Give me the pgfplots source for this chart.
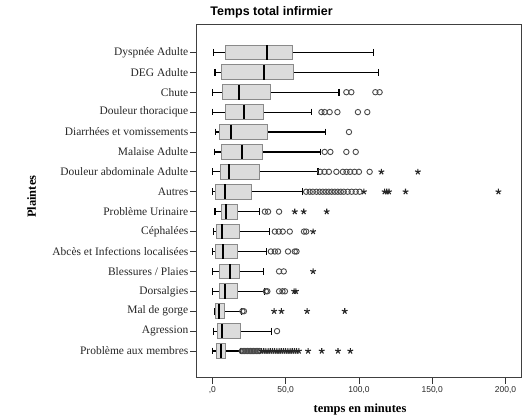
\documentclass[border=0pt]{standalone}
\usepackage{fontspec}
\setmainfont{Liberation Serif}
\setsansfont{Liberation Sans}
\usepackage{pgfplots}
\pgfplotsset{compat=1.18}
\usepgfplotslibrary{statistics}
\definecolor{boxfill}{HTML}{DCDCDC}
\definecolor{boxedge}{HTML}{8A8A8A}
\definecolor{outl}{HTML}{4A4A4A}
\pgfplotsset{
  mybox/.style={black, line width=0.9bp, solid,
    boxplot/box extend=0.74, boxplot/whisker extend=0.34,
    boxplot/every box/.style={draw=boxedge, fill=boxfill, line width=0.9bp},
    boxplot/every median/.style={black, line width=2bp},
    boxplot/every whisker/.style={black, line width=1.2bp},
  },
  circ/.style={only marks, mark=o, mark size=2.7bp, draw=outl, mark options={line width=0.9bp, draw=outl}},
  starm/.style={only marks, mark=star, mark size=3bp, black!85, mark options={line width=1.1bp}},
}
\begin{document}
\begin{tikzpicture}[x=1bp,y=1bp]
\path[use as bounding box] (0,0) rectangle (525,415);
\begin{axis}[
  at={(196bp,37.3bp)}, anchor=south west,
  scale only axis, width=325bp, height=353.4bp,
  xmin=-11.2, xmax=210.6,
  ymin=-1.41, ymax=16.34, y dir=reverse,
  boxplot/draw direction=x,
  axis line style={black!75, line width=0.8bp},
  tick align=outside, xtick pos=bottom, ytick pos=left,
  major tick length=6bp,
  tick style={black!80, line width=0.8bp},
  xtick={0,50,100,150,200},
  xticklabels={{,0},{50,0},{100,0},{150,0},{200,0}},
  xticklabel style={font=\sffamily\fontsize{8.5}{10}\selectfont, text=black!85, yshift=1bp},
  ytick={0,...,15},
  yticklabels={Dyspnée Adulte, DEG Adulte, Chute, Douleur thoracique, Diarrhées et vomissements, Malaise Adulte, Douleur abdominale Adulte, Autres, Problème Urinaire, Céphalées, Abcès et Infections localisées, Blessures / Plaies, Dorsalgies, Mal de gorge, Agression, Problème aux membres},
  yticklabel style={font=\fontsize{11.5}{13}\selectfont, text=black!85, inner sep=1.5bp},
  clip=false,
]
% boxes
\addplot[mybox, boxplot prepared={draw position=0, lower whisker=1, lower quartile=9.2, median=37.3, upper quartile=54.8, upper whisker=110}] coordinates {};
\addplot[mybox, boxplot prepared={draw position=1, lower whisker=1.7, lower quartile=6.3, median=34.9, upper quartile=55.3, upper whisker=113.4}] coordinates {};
\addplot[mybox, boxplot prepared={draw position=2, lower whisker=0, lower quartile=7, median=18, upper quartile=39.6, upper whisker=86.4}] coordinates {};
\addplot[mybox, boxplot prepared={draw position=3, lower whisker=0, lower quartile=9, median=21.7, upper quartile=34.6, upper whisker=67.8}] coordinates {};
\addplot[mybox, boxplot prepared={draw position=4, lower whisker=2.2, lower quartile=5.1, median=12.6, upper quartile=37.6, upper whisker=77.3}] coordinates {};
\addplot[mybox, boxplot prepared={draw position=5, lower whisker=1.2, lower quartile=6.3, median=19.9, upper quartile=34.2, upper whisker=73.7}] coordinates {};
\addplot[mybox, boxplot prepared={draw position=6, lower whisker=0, lower quartile=5.6, median=11.2, upper quartile=32.4, upper whisker=72.1}] coordinates {};
\addplot[mybox, boxplot prepared={draw position=7, lower whisker=0, lower quartile=2.4, median=8.5, upper quartile=26.7, upper whisker=61.5}] coordinates {};
\addplot[mybox, boxplot prepared={draw position=8, lower whisker=1.7, lower quartile=6.3, median=9.2, upper quartile=17.2, upper whisker=31.9}] coordinates {};
\addplot[mybox, boxplot prepared={draw position=9, lower whisker=0.5, lower quartile=2.9, median=6.3, upper quartile=18.7, upper whisker=39.2}] coordinates {};
\addplot[mybox, boxplot prepared={draw position=10, lower whisker=0.1, lower quartile=2.4, median=7.4, upper quartile=16.9, upper whisker=36.9}] coordinates {};
\addplot[mybox, boxplot prepared={draw position=11, lower whisker=0.1, lower quartile=4.6, median=11.9, upper quartile=18.7, upper whisker=35.1}] coordinates {};
\addplot[mybox, boxplot prepared={draw position=12, lower whisker=0.1, lower quartile=4.6, median=8.5, upper quartile=16.9, upper whisker=35.8}] coordinates {};
\addplot[mybox, boxplot prepared={draw position=13, lower whisker=1.7, lower quartile=2.0, median=4.6, upper quartile=8.5, upper whisker=19.9}] coordinates {};
\addplot[mybox, boxplot prepared={draw position=14, lower whisker=0.5, lower quartile=3.5, median=6.7, upper quartile=19.2, upper whisker=40.3}] coordinates {};
\addplot[mybox, boxplot prepared={draw position=15, lower whisker=0, lower quartile=2.9, median=5.8, upper quartile=9.2, upper whisker=19.2}] coordinates {};
% outliers (circles)
\addplot[circ] coordinates {
(91.4,2) (94.8,2) (111.2,2) (114.1,2)
(74.4,3) (76.6,3) (80,3) (85.3,3) (99.3,3) (105.7,3)
(93.2,4)
(76.6,5) (80.5,5) (91.4,5) (97.8,5)
(73.5,6) (76.5,6) (79.5,6) (84.6,6) (89,6) (91.5,6) (94,6) (97,6) (100,6) (107.3,6)
(64,7) (66.4,7) (68.5,7) (71,7) (73.2,7) (75.3,7) (77.4,7) (79.4,7) (81.4,7) (83.5,7) (85.5,7) (87.6,7) (89.6,7) (92.3,7) (95,7) (97.8,7) (100.5,7)
(35.8,8) (38,8) (45.5,8)
(42.6,9) (45.3,9) (48,9) (52.8,9) (62.5,9) (64,9)
(39.9,10) (42.6,10) (44.8,10) (51.6,10) (56.2,10) (57.4,10)
(45.5,11) (48.7,11)
(36.5,12) (37.5,12) (45.5,12) (47.8,12) (49.5,12)
(20.5,13) (21.5,13)
(44.1,14)
(20,15) (21,15) (22,15) (23,15) (24,15) (25,15) (26,15) (27,15) (28,15) (29,15) (30,15) (31,15) (32,15)
};
% extreme outliers (stars)
\addplot[starm] coordinates {
(115.3,6) (140.2,6)
(103.4,7) (117.5,7) (119,7) (120.5,7) (131.8,7) (195.2,7)
(56.2,8) (62.3,8) (78,8)
(68.7,9)
(68.7,11)
(55.8,12) (57,12)
(42.1,13) (47.1,13) (64.6,13) (90.3,13)
(33.5,15) (35,15) (36.5,15) (38,15) (39.5,15) (41,15) (42.5,15) (44,15) (45.5,15) (47,15) (48.5,15) (50,15) (51.5,15) (53,15) (54.5,15) (56,15) (57.5,15) (59,15)
(65.3,15) (74.6,15) (85.7,15) (94.1,15)
};
\end{axis}
\node[font=\sffamily\bfseries\fontsize{12.5}{14}\selectfont] at (271.6,403) {Temps total infirmier};
\node[font=\bfseries\fontsize{12.5}{14}\selectfont] at (360,5.7) {temps en minutes};
\node[font=\bfseries\fontsize{12.5}{14}\selectfont, rotate=90] at (31.7,218.3) {Plaintes};
\end{tikzpicture}
\end{document}
